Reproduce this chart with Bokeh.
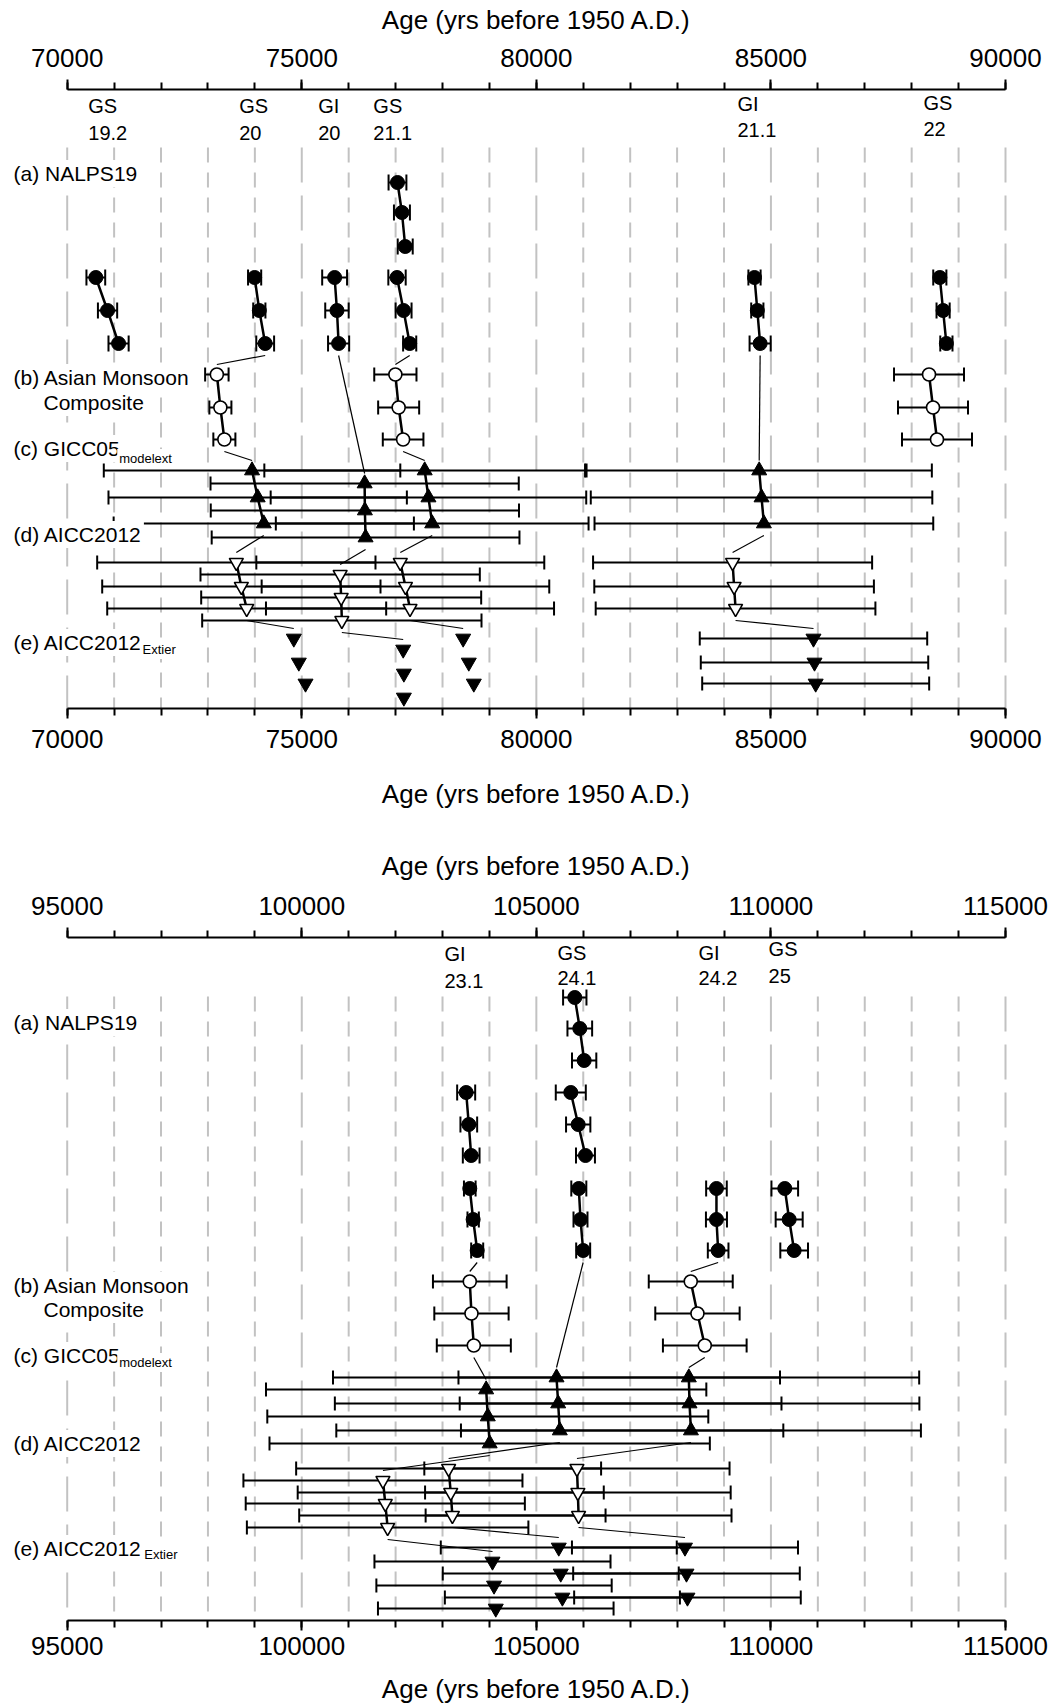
from bokeh.plotting import figure
from bokeh.models import (Range1d, LinearAxis, SingleIntervalTicker, Label,
                          ColumnDataSource, BasicTickFormatter)
from bokeh.core.properties import value
from bokeh.layouts import column
from bokeh.embed import file_html
from bokeh.resources import INLINE

FONT = "Liberation Sans"
AXIS_TITLE = "Age (yrs before 1950 A.D.)"

# ---------------------------------------------------------------- 70-90 ka
# ages (yr BP), 2-sigma errors (yr) and plotting rows for each transition group
top_nalps_age = [[77040, 77135, 77205], [70610, 70860, 71095], [73995, 74095, 74220],
                 [75700, 75750, 75785], [77030, 77170, 77300], [84650, 84710, 84770],
                 [88600, 88670, 88740]]
top_nalps_err = [[190, 170, 160], [200, 205, 215], [140, 130, 190], [265, 250, 225],
                 [185, 170, 140], [130, 130, 225], [140, 140, 130]]
top_nalps_row = [[93, 123, 157]] + [[188, 221, 254]] * 6

top_am_age = [[73190, 73265, 73350], [76995, 77065, 77160], [88370, 88455, 88540]]
top_am_err = [[250, 235, 235], [450, 437, 433], [746, 746, 746]]
top_am_row = [[285, 318, 350]] * 3

top_gicc_age = [[73940, 74060, 74190], [76340, 76345, 76360], [77620, 77700, 77780],
                [84750, 84800, 84850]]
top_gicc_err = [[3160, 3180, 3200], [3285, 3285, 3280], [3418, 3363, 3333],
                [3680, 3640, 3610]]
top_gicc_row = [[381, 408, 434], [394, 421, 448], [381, 408, 434], [381, 408, 434]]

top_aicc_age = [[73605, 73712, 73826], [75818, 75840, 75854], [77100, 77210, 77307],
                [84183, 84215, 84246]]
top_aicc_err = [[2966, 2966, 2973], [2977, 2984, 2977], [3069, 3065, 3070],
                [2974, 2980, 2981]]
top_aicc_row = [[473, 497, 519], [485, 508, 531], [473, 497, 519], [473, 497, 519]]

top_ext_age = [[74830, 74937, 75080], [77162, 77176, 77176], [78440, 78560, 78667],
               [85907, 85929, 85954]]
top_ext_err = [[0, 0, 0], [0, 0, 0], [0, 0, 0], [2424, 2424, 2419]]
top_ext_row = [[549, 573, 594], [560, 584, 608], [549, 573, 594], [549, 573, 594]]

# tie lines: (from record, group) -> (to record, group)
top_ties = [("nalps", 2, "am", 0), ("nalps", 3, "gicc", 1), ("nalps", 4, "am", 1),
            ("nalps", 5, "gicc", 3), ("am", 0, "gicc", 0), ("am", 1, "gicc", 2),
            ("gicc", 0, "aicc", 0), ("gicc", 1, "aicc", 1), ("gicc", 2, "aicc", 2),
            ("gicc", 3, "aicc", 3), ("aicc", 0, "ext", 0), ("aicc", 1, "ext", 1),
            ("aicc", 2, "ext", 2), ("aicc", 3, "ext", 3)]

top_event_kind = ["GS", "GS", "GI", "GS", "GI", "GS"]
top_event_num = ["19.2", "20", "20", "21.1", "21.1", "22"]
top_event_age = [70450, 73665, 75350, 76525, 84285, 88250]
top_event_kind_row = [16, 16, 16, 16, 14, 13]
top_event_num_row = [43, 43, 43, 43, 40, 39]

# --------------------------------------------------------------- 95-115 ka
bot_nalps_age = [[103504, 103560, 103611], [103581, 103653, 103739],
                 [105819, 105926, 106019], [105734, 105892, 106047],
                 [105905, 105941, 105998], [108839, 108839, 108875],
                 [110295, 110389, 110495]]
bot_nalps_err = [[192, 178, 178], [124, 121, 128], [249, 263, 259], [320, 259, 202],
                 [160, 149, 149], [220, 224, 220], [284, 288, 295]]
bot_nalps_row = [[155, 187, 218], [251, 282, 313], [60, 91, 123], [155, 187, 218],
                 [251, 282, 313], [251, 282, 313], [251, 282, 313]]

bot_am_age = [[103581, 103617, 103667], [108291, 108434, 108590]]
bot_am_err = [[785, 792, 789], [895, 899, 892]]
bot_am_row = [[344, 376, 408]] * 2

bot_gicc_age = [[103930, 103965, 104005], [105430, 105465, 105500],
                [108250, 108265, 108295]]
bot_gicc_err = [[4693, 4700, 4693], [4764, 4760, 4764], [4910, 4899, 4902]]
bot_gicc_row = [[452, 479, 506], [440, 466, 493], [440, 466, 493]]

bot_aicc_age = [[103130, 103175, 103210], [101730, 101780, 101830],
                [105865, 105885, 105900]]
bot_aicc_err = [[3250, 3262, 3265], [2974, 2975, 3000], [3253, 3257, 3260]]
bot_aicc_row = [[531, 555, 578], [543, 566, 590], [531, 555, 578]]

bot_ext_age = [[105478, 105520, 105555], [104065, 104098, 104135],
               [108168, 108200, 108221]]
bot_ext_err = [[2515, 2515, 2505], [2516, 2508, 2511], [2409, 2415, 2415]]
bot_ext_row = [[610, 636, 660], [624, 648, 671], [610, 636, 660]]

bot_ties = [("nalps", 1, "am", 0), ("nalps", 4, "gicc", 1), ("nalps", 5, "am", 1),
            ("am", 0, "gicc", 0), ("am", 1, "gicc", 2), ("gicc", 0, "aicc", 1),
            ("gicc", 1, "aicc", 0), ("gicc", 2, "aicc", 2), ("aicc", 1, "ext", 1),
            ("aicc", 0, "ext", 0), ("aicc", 2, "ext", 2)]

bot_event_kind = ["GI", "GS", "GI", "GS"]
bot_event_num = ["23.1", "24.1", "24.2", "25"]
bot_event_age = [103040, 105450, 108455, 109950]
bot_event_kind_row = [16, 15, 15, 11]
bot_event_num_row = [43, 40, 40, 38]

# record labels: text, offset from the left axis end (yr), row, font size
top_labels = [("(a) NALPS19", -1187, 84, 21), ("(b) Asian Monsoon", -1187, 288, 21),
              ("Composite", -548, 313, 21), ("(c) GICC05", -1187, 359, 21),
              ("modelext", 1066, 369, 13), ("(d) AICC2012", -1187, 445, 21),
              ("(e) AICC2012", -1187, 553, 21), ("Extier", 1562, 560, 13)]
bot_labels = [("(a) NALPS19", -1187, 85, 21), ("(b) Asian Monsoon", -1187, 348, 21),
              ("Composite", -548, 372, 21), ("(c) GICC05", -1187, 418, 21),
              ("modelext", 1066, 425, 13), ("(d) AICC2012", -1187, 506, 21),
              ("(e) AICC2012", -1187, 611, 21), ("Extier", 1600, 617, 13)]

# marker styling per record
STYLE = {
    "nalps": dict(marker="circle", size=14, fill_color="black", line_color="black", line_width=1, cap=8),
    "am": dict(marker="circle", size=13, fill_color="white", line_color="black", line_width=1.6, cap=7),
    "gicc": dict(marker="triangle", size=15, fill_color="black", line_color="black", line_width=1, cap=7),
    "aicc": dict(marker="inverted_triangle", size=14, fill_color="white", line_color="black", line_width=1.6, cap=7),
    "ext": dict(marker="inverted_triangle", size=15, fill_color="black", line_color="black", line_width=1, cap=7),
}

PAGE_W = 1062
FRAME_LEFT = 10              # the frame is centred on the age axis
AXIS_LEFT_PX = 66.7          # page position of the first age tick
PX_PER_YR = 938.3 / 20000.0  # horizontal scale shared by both panels


def build_panel(x_start, x_end, frame_h, records, ties, ev_kind, ev_num, ev_age,
                ev_kind_row, ev_num_row, labels, grid_top, border_top, border_bottom,
                above_std, above_title_std, below_std, below_title_std):
    frame_w = PAGE_W - FRAME_LEFT
    r0 = x_start - (AXIS_LEFT_PX - FRAME_LEFT) / PX_PER_YR
    r1 = r0 + frame_w / PX_PER_YR
    p = figure(x_range=Range1d(r0, r1),
               y_range=Range1d(frame_h, 0),
               frame_width=frame_w, frame_height=frame_h,
               min_border_left=FRAME_LEFT, min_border_right=0,
               min_border_top=border_top, min_border_bottom=border_bottom,
               x_axis_location=None, y_axis_location=None,
               output_backend="svg", toolbar_location=None,
               background_fill_color="white", border_fill_color="white")
    p.outline_line_color = None
    p.xgrid.visible = False
    p.ygrid.visible = False

    # dashed vertical guides every 1000 yr
    minor_x = [x for x in range(x_start, x_end + 1, 1000) if (x - x_start) % 5000]
    major_x = [x for x in range(x_start, x_end + 1, 5000)]
    for xs, dash in ((minor_x, "15 10"), (major_x, "35 13")):
        p.segment(x0=xs, x1=xs, y0=[grid_top] * len(xs), y1=[frame_h] * len(xs),
                  line_color="#c2c2c2", line_width=2, line_dash=dash)

    # error bars with end caps
    bx0, bx1, by = [], [], []
    cx, cy0, cy1 = [], [], []
    for key, (ages, errs, rows) in records.items():
        cap = STYLE[key]["cap"]
        for ga, ge, gr in zip(ages, errs, rows):
            for a, e, r in zip(ga, ge, gr):
                if e <= 0:
                    continue
                bx0.append(a - e); bx1.append(a + e); by.append(r)
                for xe in (a - e, a + e):
                    cx.append(xe); cy0.append(r - cap); cy1.append(r + cap)
    p.segment(x0=bx0, x1=bx1, y0=by, y1=by, line_color="black", line_width=2)
    p.segment(x0=cx, x1=cx, y0=cy0, y1=cy1, line_color="black", line_width=2)

    # lines joining the members of each group
    lxs, lys = [], []
    for key, (ages, errs, rows) in records.items():
        if key == "ext":
            continue
        for ga, gr in zip(ages, rows):
            lxs.append(ga); lys.append(gr)
    p.multi_line(xs=lxs, ys=lys, line_color="black", line_width=2.5)

    # tie lines between records
    tx0, tx1, ty0, ty1 = [], [], [], []
    for src, si, dst, di in ties:
        tx0.append(records[src][0][si][-1]); ty0.append(records[src][2][si][-1] + 12)
        tx1.append(records[dst][0][di][0]); ty1.append(records[dst][2][di][0] - 10)
    p.segment(x0=tx0, x1=tx1, y0=ty0, y1=ty1, line_color="black", line_width=1.2)

    # markers
    for key, (ages, errs, rows) in records.items():
        st = STYLE[key]
        xs = [a for g in ages for a in g]
        ys = [r for g in rows for r in g]
        p.scatter(x=xs, y=ys, marker=st["marker"], size=st["size"],
                  fill_color=st["fill_color"], line_color=st["line_color"],
                  line_width=st["line_width"])

    # stadial / interstadial names
    ev = ColumnDataSource(dict(x=ev_age + ev_age, y=ev_kind_row + ev_num_row,
                               t=ev_kind + ev_num))
    p.text(x="x", y="y", text="t", source=ev, text_font=value(FONT),
           text_font_size="20px", text_baseline="middle", text_align="left",
           text_color="black")

    # record names
    for text, dx, row, size in labels:
        p.add_layout(Label(x=x_start + dx, y=row, text=text, text_font=FONT,
                           text_font_size=f"{size}px", text_baseline="middle",
                           text_align="left", text_color="black",
                           background_fill_color="white", padding=2))

    for loc, std, tstd in (("above", above_std, above_title_std),
                           ("below", below_std, below_title_std)):
        ax = LinearAxis(ticker=SingleIntervalTicker(interval=5000, num_minor_ticks=5),
                        formatter=BasicTickFormatter(use_scientific=False),
                        bounds=(x_start, x_end), axis_label=AXIS_TITLE)
        ax.axis_line_width = 2
        ax.major_tick_line_width = 2
        ax.minor_tick_line_width = 2
        ax.major_tick_in = 0
        ax.major_tick_out = 10
        ax.minor_tick_in = 0
        ax.minor_tick_out = 7
        ax.major_label_standoff = std
        ax.axis_label_standoff = tstd
        ax.major_label_text_font = FONT
        ax.major_label_text_font_size = "26px"
        ax.major_label_text_color = "black"
        ax.axis_label_text_font = FONT
        ax.axis_label_text_font_size = "26px"
        ax.axis_label_text_font_style = "normal"
        ax.axis_label_text_color = "black"
        p.add_layout(ax, loc)
    return p


top_records = {
    "nalps": (top_nalps_age, top_nalps_err, top_nalps_row),
    "am": (top_am_age, top_am_err, top_am_row),
    "gicc": (top_gicc_age, top_gicc_err, top_gicc_row),
    "aicc": (top_aicc_age, top_aicc_err, top_aicc_row),
    "ext": (top_ext_age, top_ext_err, top_ext_row),
}
bot_records = {
    "nalps": (bot_nalps_age, bot_nalps_err, bot_nalps_row),
    "am": (bot_am_age, bot_am_err, bot_am_row),
    "gicc": (bot_gicc_age, bot_gicc_err, bot_gicc_row),
    "aicc": (bot_aicc_age, bot_aicc_err, bot_aicc_row),
    "ext": (bot_ext_age, bot_ext_err, bot_ext_row),
}

p1 = build_panel(70000, 90000, 619, top_records, top_ties, top_event_kind,
                 top_event_num, top_event_age, top_event_kind_row, top_event_num_row,
                 top_labels, grid_top=58, border_top=89, border_bottom=112,
                 above_std=13, above_title_std=11, below_std=11, below_title_std=28)
p2 = build_panel(95000, 115000, 683, bot_records, bot_ties, bot_event_kind,
                 bot_event_num, bot_event_age, bot_event_kind_row, bot_event_num_row,
                 bot_labels, grid_top=59, border_top=117, border_bottom=88,
                 above_std=13, above_title_std=13, below_std=6, below_title_std=16)

page = column(p1, p2, spacing=0)
open("out.html", "w").write(file_html(page, INLINE))
